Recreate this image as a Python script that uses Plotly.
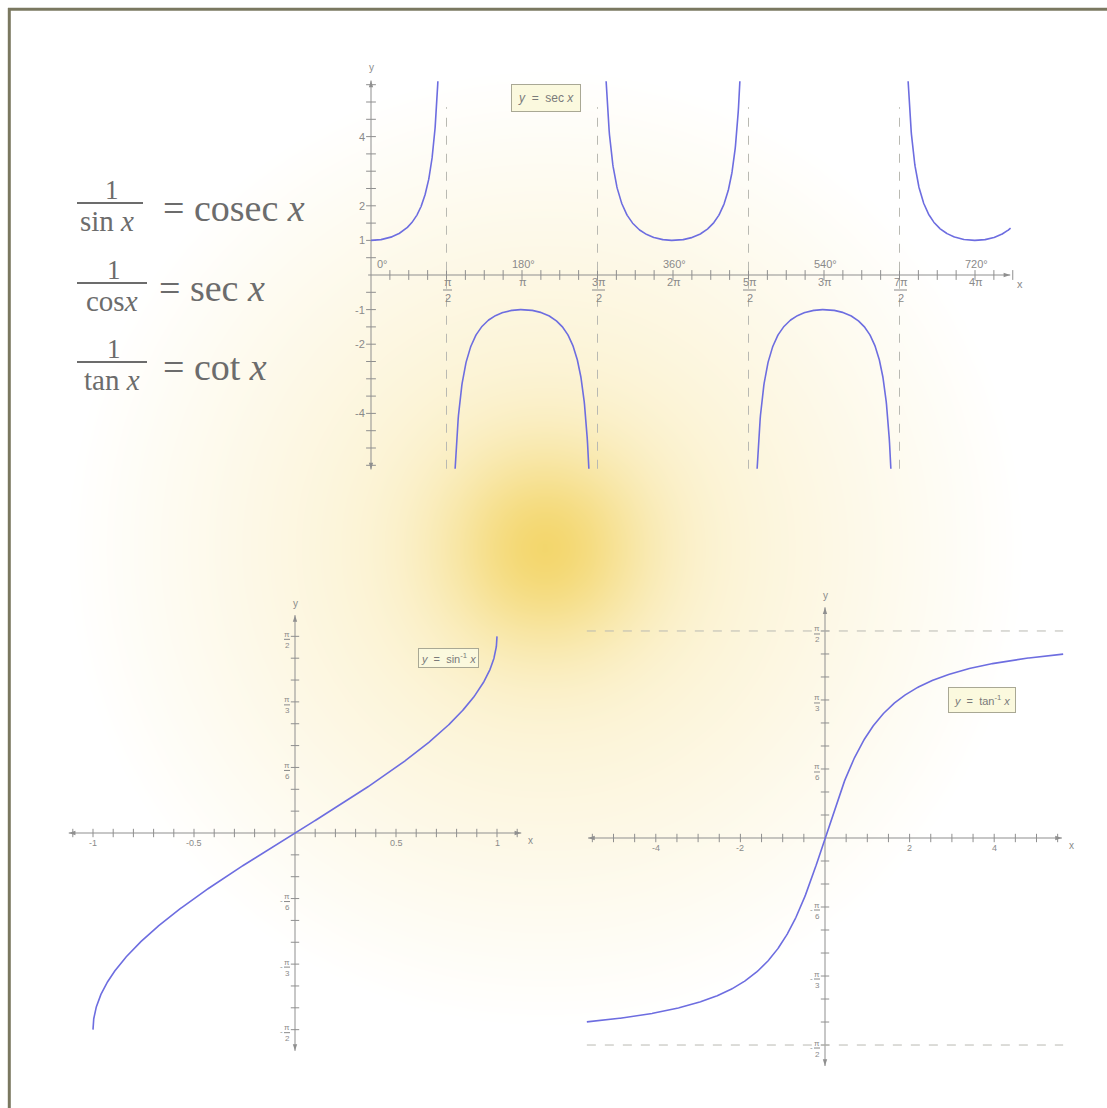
import numpy as np
import plotly.graph_objects as go

W, H = 1107, 1108
PI = np.pi

# ---------------- y = sec x ----------------
sec_x_end = 4 * PI + 0.74
sec_y_limit = 5.6
sec_asymptotes = [PI / 2, 3 * PI / 2, 5 * PI / 2, 7 * PI / 2]
sec_asym_top = 4.85
sec_major_x = [PI / 2, PI, 3 * PI / 2, 2 * PI, 5 * PI / 2, 3 * PI, 7 * PI / 2, 4 * PI]
sec_major_num = ["π", "π", "3π", "2π", "5π", "3π", "7π", "4π"]
sec_major_den = ["2", "", "2", "", "2", "", "2", ""]
sec_deg_x = [0, PI, 2 * PI, 3 * PI, 4 * PI]
sec_deg_text = ["0°", "180°", "360°", "540°", "720°"]
sec_y_ticks = [4, 2, 1, -1, -2, -4]
sec_y_text = ["4", "2", "1", "-1", "-2", "-4"]
sec_minor_x = [k * PI / 8 for k in range(1, 35)]
sec_minor_y = [k * 0.5 for k in range(-11, 12) if k != 0]

# ---------------- y = sin^-1 x ----------------
asin_domain = (-1.0, 1.0)
asin_x_ticks = [-1, -0.5, 0.5, 1]
asin_x_text = ["-1", "-0.5", "0.5", "1"]
asin_minor_x = [round(k * 0.1, 1) for k in range(-11, 12) if k != 0]

# angle ticks shared by the two inverse-function plots
ang_ticks = [PI / 2, PI / 3, PI / 6, -PI / 6, -PI / 3, -PI / 2]
ang_num = ["π", "π", "π", "π", "π", "π"]
ang_den = ["2", "3", "6", "6", "3", "2"]
ang_neg = [False, False, False, True, True, True]
ang_minor = [k * PI / 18 for k in range(-9, 10) if k != 0]

# ---------------- y = tan^-1 x ----------------
atan_domain = (-5.63, 5.63)
atan_x_ticks = [-4, -2, 2, 4]
atan_x_text = ["-4", "-2", "2", "4"]
atan_minor_x = [k * 0.5 for k in range(-11, 12) if k != 0]
atan_asymptotes = [PI / 2, -PI / 2]

# ---------------- reciprocal identities ----------------
ident_num = ["1", "1", "1"]
ident_den = ["sin <i>x</i>", "cos<i>x</i>", "tan <i>x</i>"]
ident_rhs = ["= cosec <i>x</i>", "= sec <i>x</i>", "= cot <i>x</i>"]

# ---------------- styling ----------------
AXIS_C = "#8f8f8f"
TEXT_C = "#8a8a8a"
DASH_C = "#b9b9b2"
CURVE_C = "#6d6de0"
BOX_BG = "#fbf9de"
BOX_BORDER = "#a9a894"
SANS = "Liberation Sans, Arial, sans-serif"
SERIF = "Liberation Serif, Times New Roman, serif"
IDENT_C = "#6c6c6c"

# panel geometry: pixel origin, pixels per unit, pixel box
PANELS = {
    "sec": dict(n="2", origin=(371, 275), scale=(151 / PI, 34.6), box=(340, 55, 1045, 485)),
    "asin": dict(n="3", origin=(295, 833), scale=(202.0, 125.2), box=(45, 588, 560, 1078)),
    "atan": dict(n="4", origin=(825, 838), scale=(42.3, 131.8), box=(565, 583, 1100, 1085)),
}

fig = go.Figure()
layout_axes = {}


def make_axes(p):
    ox, oy = p["origin"]
    sx, sy = p["scale"]
    x0, y0, x1, y1 = p["box"]
    xa = dict(domain=[x0 / W, x1 / W], range=[(x0 - ox) / sx, (x1 - ox) / sx],
              visible=False, fixedrange=True, anchor="y" + p["n"])
    ya = dict(domain=[1 - y1 / H, 1 - y0 / H], range=[(oy - y1) / sy, (oy - y0) / sy],
              visible=False, fixedrange=True, anchor="x" + p["n"])
    layout_axes["xaxis" + p["n"]] = xa
    layout_axes["yaxis" + p["n"]] = ya
    return "x" + p["n"], "y" + p["n"]


def ann(xr, yr, x, y, text, size=10, dx=0, dy=0, color=TEXT_C, family=SANS, xanchor="center"):
    fig.add_annotation(xref=xr, yref=yr, x=x, y=y, text=text, showarrow=False,
                       xanchor=xanchor, yanchor="middle",
                       xshift=dx, yshift=dy, font=dict(size=size, color=color, family=family))


def axis_line(xr, yr, x0, y0, x1, y1, heads):
    # axis line with small arrow heads; heads = list of (x, y, angle)
    fig.add_trace(go.Scatter(x=[x0, x1], y=[y0, y1], mode="lines", xaxis=xr, yaxis=yr,
                             hoverinfo="skip", line=dict(color=AXIS_C, width=1)))
    fig.add_trace(go.Scatter(x=[h[0] for h in heads], y=[h[1] for h in heads], mode="markers",
                             xaxis=xr, yaxis=yr, hoverinfo="skip", cliponaxis=False,
                             marker=dict(symbol="arrow", size=7, angle=[h[2] for h in heads],
                                         color=AXIS_C, line=dict(width=0))))


def frac(xr, yr, x, y, num, den, dx, num_dy, bar_dy, den_dy, size, bar_w, minus=False):
    ann(xr, yr, x, y, num, size=size, dx=dx, dy=num_dy)
    if den:
        ann(xr, yr, x, y, den, size=size, dx=dx, dy=den_dy)
        fig.add_shape(type="line", xref=xr, yref=yr, xsizemode="pixel", ysizemode="pixel",
                      xanchor=x, yanchor=y, x0=dx - bar_w / 2, x1=dx + bar_w / 2,
                      y0=bar_dy, y1=bar_dy, line=dict(color=TEXT_C, width=1))
    if minus:
        ann(xr, yr, x, y, "-", size=size, dx=dx - bar_w / 2 - 3, dy=bar_dy + 1)


def ticks(xr, yr, xs, ys, symbol, size=7):
    fig.add_trace(go.Scatter(x=xs, y=ys, mode="markers", xaxis=xr, yaxis=yr, hoverinfo="skip",
                             marker=dict(symbol=symbol, size=size, color=AXIS_C,
                                         line=dict(width=1, color=AXIS_C))))


def curve(xr, yr, xs, ys):
    fig.add_trace(go.Scatter(x=xs, y=ys, mode="lines", xaxis=xr, yaxis=yr, hoverinfo="skip",
                             line=dict(color=CURVE_C, width=1.6), connectgaps=False))


def label_box(xr, yr, x, y, text, pad, size=11):
    fig.add_annotation(xref=xr, yref=yr, x=x, y=y, text=text, showarrow=False,
                       bgcolor=BOX_BG, bordercolor=BOX_BORDER, borderwidth=1, borderpad=pad,
                       font=dict(size=size, color="#7a7a7a", family=SANS))


# ---------------- soft yellow glow behind everything ----------------
gx = np.linspace(0, W, 170)
gy = np.linspace(0, H, 170)
GX, GY = np.meshgrid(gx, gy)
rr = np.hypot(GX - 545, GY - 548)
glow = 0.42 * np.clip(1 - rr / 480, 0, 1) + 0.55 * np.exp(-(rr / 100) ** 2)
fig.add_trace(go.Heatmap(x=gx, y=gy, z=glow, zmin=0, zmax=1, zsmooth="best", showscale=False,
                         hoverinfo="skip", xaxis="x", yaxis="y",
                         colorscale=[[0, "#ffffff"], [1, "rgb(243,213,104)"]]))
layout_axes["xaxis"] = dict(domain=[0, 1], range=[0, W], visible=False, fixedrange=True)
layout_axes["yaxis"] = dict(domain=[0, 1], range=[H, 0], visible=False, fixedrange=True)

# ---------------- panel: sec x ----------------
xr, yr = make_axes(PANELS["sec"])
for a in sec_asymptotes:
    fig.add_shape(type="line", xref=xr, yref=yr, x0=a, x1=a, y0=-sec_y_limit, y1=sec_asym_top,
                  line=dict(color=DASH_C, width=1, dash="dash"))
axis_line(xr, yr, -0.06, 0, 13.3, 0, [(13.3, 0, 90)])
axis_line(xr, yr, 0, -5.62, 0, 5.62, [(0, 5.62, 0), (0, -5.62, 180)])
ticks(xr, yr, sec_minor_x, [0] * len(sec_minor_x), "line-ns-open")
ticks(xr, yr, [0] * len(sec_minor_y), sec_minor_y, "line-ew-open")

half = np.arccos(1 / sec_y_limit)
sx_all, sy_all = [], []
for k in range(5):
    lo, hi = max(0.0, k * PI - half), min(sec_x_end, k * PI + half)
    t = np.linspace(lo, hi, 400)
    sx_all += list(t) + [None]
    sy_all += list(1 / np.cos(t)) + [None]
curve(xr, yr, sx_all, sy_all)

for x, n, d in zip(sec_major_x, sec_major_num, sec_major_den):
    if d:
        frac(xr, yr, x, 0, n, d, 1, -7, -15, -23, 11, 9 if len(n) == 1 else 13)
    else:
        ann(xr, yr, x, 0, n, size=11, dx=1, dy=-7)
for x, t in zip(sec_deg_x, sec_deg_text):
    ann(xr, yr, x, 0, t, size=11, dx=11 if x == 0 else 1, dy=11)
for v, t in zip(sec_y_ticks, sec_y_text):
    ann(xr, yr, 0, v, t, size=11, dx=-4, xanchor="right")
ann(xr, yr, 0, 5.62, "y", size=10, dy=13)
ann(xr, yr, 13.3, 0, "x", size=11, dx=10, dy=-9)
label_box(xr, yr, 3.64, 5.12, "<i>y</i>  =  sec <i>x</i>", 6, size=12)

# ---------------- panel: sin^-1 x ----------------
xr, yr = make_axes(PANELS["asin"])
axis_line(xr, yr, -1.12, 0, 1.12, 0, [(1.12, 0, 90), (-1.12, 0, 270)])
axis_line(xr, yr, 0, -1.74, 0, 1.74, [(0, 1.74, 0), (0, -1.74, 180)])
ticks(xr, yr, asin_minor_x, [0] * len(asin_minor_x), "line-ns-open", 6)
ticks(xr, yr, [0] * len(ang_minor), ang_minor, "line-ew-open", 6)
u = np.sin(np.linspace(-PI / 2, PI / 2, 600)) * (asin_domain[1] - asin_domain[0]) / 2
curve(xr, yr, u, np.arcsin(u))
for v, t in zip(asin_x_ticks, asin_x_text):
    ann(xr, yr, v, 0, t, size=9, dy=-10)
for v, n, d, neg in zip(ang_ticks, ang_num, ang_den, ang_neg):
    frac(xr, yr, 0, v, n, d, -8, 2, -3, -9, 8, 6, minus=neg)
ann(xr, yr, 0, 1.74, "y", size=10, dy=12)
ann(xr, yr, 1.12, 0, "x", size=10, dx=9, dy=-7)
label_box(xr, yr, 0.762, 1.40, "<i>y</i>  =  sin<sup>-1</sup> <i>x</i>", 2)

# ---------------- panel: tan^-1 x ----------------
xr, yr = make_axes(PANELS["atan"])
for a in atan_asymptotes:
    fig.add_shape(type="line", xref=xr, yref=yr, x0=atan_domain[0], x1=atan_domain[1], y0=a, y1=a,
                  line=dict(color=DASH_C, width=1, dash="dash"))
axis_line(xr, yr, -5.6, 0, 5.6, 0, [(5.6, 0, 90), (-5.6, 0, 270)])
axis_line(xr, yr, 0, -1.73, 0, 1.75, [(0, 1.75, 0), (0, -1.73, 180)])
ticks(xr, yr, atan_minor_x, [0] * len(atan_minor_x), "line-ns-open", 6)
ticks(xr, yr, [0] * len(ang_minor), ang_minor, "line-ew-open", 6)
v = np.linspace(atan_domain[0], atan_domain[1], 600)
curve(xr, yr, v, np.arctan(v))
for x, t in zip(atan_x_ticks, atan_x_text):
    ann(xr, yr, x, 0, t, size=9, dy=-10)
for yv, n, d, neg in zip(ang_ticks, ang_num, ang_den, ang_neg):
    frac(xr, yr, 0, yv, n, d, -8, 2, -3, -9, 8, 6, minus=neg)
ann(xr, yr, 0, 1.75, "y", size=10, dy=12)
ann(xr, yr, 5.6, 0, "x", size=10, dx=10, dy=-7)
label_box(xr, yr, 3.71, 1.047, "<i>y</i>  =  tan<sup>-1</sup> <i>x</i>", 5)

# ---------------- reciprocal identities (paper coordinates) ----------------
def px(x):
    return x / W


def py(y):
    return 1 - y / H


rows = [
    dict(num_y=190, bar_y=203, bar_x=(77, 143), den_x=107, den_y=221, rhs_x=161, rhs_y=208),
    dict(num_y=270, bar_y=283, bar_x=(77, 147), den_x=112, den_y=301, rhs_x=157, rhs_y=288),
    dict(num_y=349, bar_y=362, bar_x=(77, 147), den_x=112, den_y=380, rhs_x=161, rhs_y=367),
]
for r, n, d, rhs in zip(rows, ident_num, ident_den, ident_rhs):
    cx = (r["bar_x"][0] + r["bar_x"][1]) / 2 + 2
    ann("paper", "paper", px(cx), py(r["num_y"]), n, size=27, color=IDENT_C, family=SERIF)
    fig.add_shape(type="line", xref="paper", yref="paper", x0=px(r["bar_x"][0]), x1=px(r["bar_x"][1]),
                  y0=py(r["bar_y"]), y1=py(r["bar_y"]), line=dict(color=IDENT_C, width=2))
    ann("paper", "paper", px(r["den_x"]), py(r["den_y"]), d, size=29, color=IDENT_C, family=SERIF)
    ann("paper", "paper", px(r["rhs_x"]), py(r["rhs_y"]), rhs, size=38, color=IDENT_C,
        family=SERIF, xanchor="left")

# frame lines along the top and left edges
FRAME_C = "rgb(122,120,96)"
fig.add_shape(type="line", xref="paper", yref="paper", x0=px(8), x1=1.02, y0=py(9.3), y1=py(9.3),
              line=dict(color=FRAME_C, width=3))
fig.add_shape(type="line", xref="paper", yref="paper", x0=px(9.3), x1=px(9.3), y0=py(8), y1=-0.02,
              line=dict(color=FRAME_C, width=3))

fig.update_layout(width=W, height=H, margin=dict(l=0, r=0, t=0, b=0), showlegend=False,
                  paper_bgcolor="#ffffff", plot_bgcolor="rgba(0,0,0,0)", **layout_axes)
fig.write_html("out.html", config={"displayModeBar": False})
